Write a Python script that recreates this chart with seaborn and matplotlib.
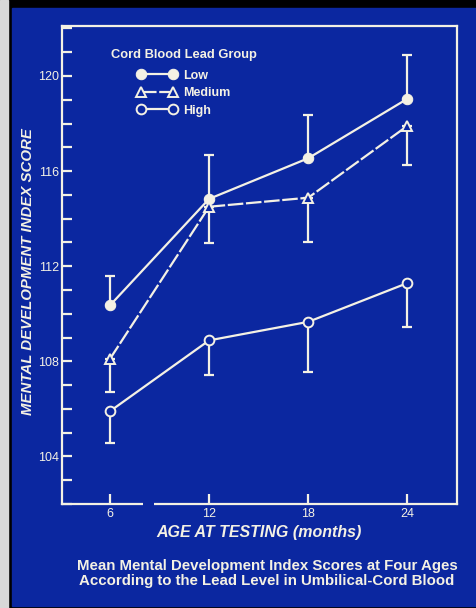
import numpy as np
import matplotlib
matplotlib.use("Agg")
import matplotlib.pyplot as plt
import matplotlib.patches as mpatches
from matplotlib.ticker import MultipleLocator
import seaborn as sns

# ages (months)
ages = [6, 12, 18, 24]

# mean MDI scores per cord blood lead group
low_mean = [110.35, 114.83, 116.54, 119.04]
med_mean = [108.1, 114.5, 114.88, 117.9]
high_mean = [105.9, 108.88, 109.66, 111.29]

# ends of the one-sided error bars
low_top = [111.6, 116.66, 118.37, 120.9]
med_bottom = [106.73, 112.99, 113.0, 116.25]
high_bottom = [104.55, 107.44, 107.57, 109.45]

y_major = [104, 108, 112, 116, 120]
y_labels = ["104", "108", "112", "116", "120"]

bg = "#0b27a0"
fg = "#f4f1e4"

sns.set_style("white")
plt.rcParams["font.family"] = ["Liberation Sans", "DejaVu Sans"]

fig = plt.figure(figsize=(4.77, 6.08), dpi=100)
fig.patch.set_facecolor("black")
fig.add_artist(mpatches.Rectangle((12 / 477, 2 / 608), 1, 598 / 608,
                                  transform=fig.transFigure, color=bg, zorder=-10))
fig.add_artist(mpatches.Rectangle((0, 0), 8 / 477, 1, transform=fig.transFigure,
                                  color="#d8d8d8", zorder=-10))

ax = fig.add_axes([62 / 477, 1 - 504 / 608, 395 / 477, 478 / 608])
ax.set_facecolor(bg)
ax.set_zorder(2)

lw = 1.6
sns.lineplot(x=ages, y=low_mean, ax=ax, color=fg, linewidth=lw, marker="o",
             markersize=7.5, markerfacecolor=fg, markeredgecolor=fg, label="Low")
sns.lineplot(x=ages, y=med_mean, ax=ax, color=fg, linewidth=lw, marker="^",
             markersize=7, markerfacecolor=bg, markeredgecolor=fg, markeredgewidth=1.4,
             linestyle=(0, (7, 1.2)), label="Medium")
sns.lineplot(x=ages, y=high_mean, ax=ax, color=fg, linewidth=lw, marker="o",
             markersize=7, markerfacecolor=bg, markeredgecolor=fg, markeredgewidth=1.4,
             label="High")

low_err = np.array(low_top) - np.array(low_mean)
med_err = np.array(med_mean) - np.array(med_bottom)
high_err = np.array(high_mean) - np.array(high_bottom)
z = np.zeros(4)
for m, err in [(low_mean, [z, low_err]), (med_mean, [med_err, z]), (high_mean, [high_err, z])]:
    ax.errorbar(ages, m, yerr=err, fmt="none", ecolor=fg, elinewidth=lw,
                capsize=3.8, capthick=lw, zorder=1)

ax.set_xlim(3.1, 27)
ax.set_ylim(102, 122.1)
ax.set_xticks(ages)
ax.set_xticklabels([str(a) for a in ages])
ax.set_yticks(y_major)
ax.set_yticklabels(y_labels)
ax.yaxis.set_minor_locator(MultipleLocator(1))
ax.tick_params(axis="both", which="both", direction="in", colors=fg, labelcolor=fg,
               width=lw, length=7, labelsize=9)
ax.tick_params(axis="y", which="both", left=True, pad=2)
ax.tick_params(axis="x", which="both", bottom=True, pad=3)
for s in ax.spines.values():
    s.set_color(fg)
    s.set_linewidth(lw)

# break in the bottom axis line
ax.plot([(143 - 62) / 395, (154 - 62) / 395], [0, 0], transform=ax.transAxes,
        color=bg, linewidth=lw + 1.5, clip_on=False, zorder=5, solid_capstyle="butt")

ax.set_xlabel("AGE AT TESTING (months)", color=fg, fontsize=11.5, fontweight="bold",
              fontstyle="italic")
ax.set_ylabel("MENTAL DEVELOPMENT INDEX SCORE", color=fg, fontsize=10.8,
              fontweight="bold", fontstyle="italic")
ax.xaxis.label.set_va("center")
ax.yaxis.label.set_va("center")
ax.xaxis.set_label_coords(0.5, -29 / 478)
ax.yaxis.set_label_coords(-34 / 395, 232 / 478)

leg = ax.legend(title="Cord Blood Lead Group", loc="upper center",
                bbox_to_anchor=(184 / 477, 1 - 43 / 608), bbox_transform=fig.transFigure,
                frameon=False, fontsize=9, title_fontsize=9.3, handlelength=3.2,
                handletextpad=0.5, labelspacing=0.45, borderpad=0, numpoints=2)
leg._legend_box.sep = 6
leg.get_title().set_color(fg)
leg.get_title().set_fontweight("bold")
for t in leg.get_texts():
    t.set_color(fg)
    t.set_fontweight("bold")

fig.text(267 / 477, 1 - 573.5 / 608,
         "Mean Mental Development Index Scores at Four Ages\n"
         "According to the Lead Level in Umbilical-Cord Blood",
         ha="center", va="center", color=fg, fontsize=10.8, fontweight="bold",
         linespacing=1.15)

fig.savefig("out.png", dpi=100, facecolor=fig.get_facecolor())
